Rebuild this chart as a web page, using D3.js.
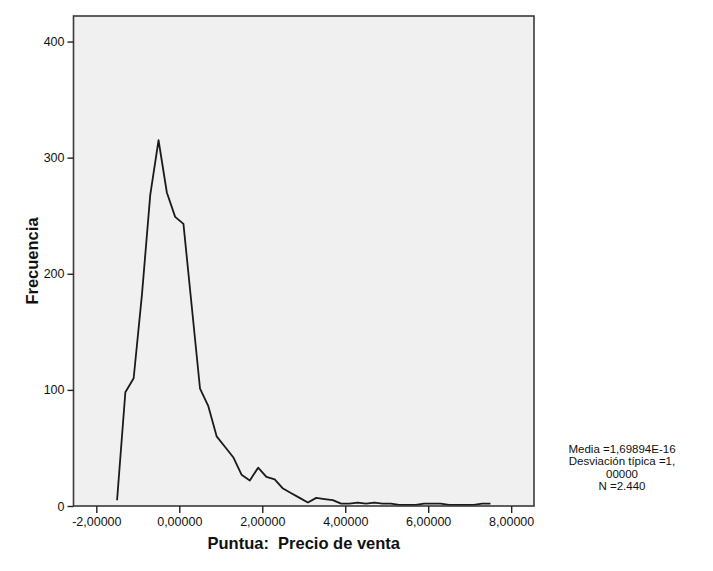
<!DOCTYPE html>
<html><head><meta charset="utf-8">
<script src="https://cdn.jsdelivr.net/npm/d3@7"></script>
<style>
html,body{margin:0;padding:0;background:#fff;}
svg text{font-family:"Liberation Sans",Arial,sans-serif;}
</style></head>
<body><div id="chart"></div>
<script>
// Frequency polygon of standardized sale price (midpoints and counts)
const midpoints = [-1.5,-1.3,-1.1,-0.9,-0.7,-0.5,-0.3,-0.1,0.1,0.3,0.5,0.7,0.9,1.1,1.3,1.5,1.7,1.9,2.1,2.3,2.5,2.7,2.9,3.1,3.3,3.5,3.7,3.9,4.1,4.3,4.5,4.7,4.9,5.1,5.3,5.5,5.7,5.9,6.1,6.3,6.5,6.7,6.9,7.1,7.3,7.5];
const counts    = [5,98,110,182,268,315,270,249,243,172,101,86,60,51,42,27,22,33,25,23,15,11,7,3,7,6,5,2,2,3,2,3,2,2,1,1,1,2,2,2,1,1,1,1,2,2];
const xTicks = [-2,0,2,4,6,8];
const xTickLabels = ["-2,00000","0,00000","2,00000","4,00000","6,00000","8,00000"];
const yTicks = [0,100,200,300,400];
const xTitle = "Puntua:  Precio de venta";
const yTitle = "Frecuencia";
const statsLines = ["Media =1,69894E-16","Desviación típica =1,","00000","N =2.440"];

const W = 713, H = 571;
const L = 73.5, R = 534, T = 16, B = 506;
const svg = d3.select("#chart").append("svg").attr("width",W).attr("height",H);

const x = d3.scaleLinear().domain([-2.55, 8.55]).range([L, R]);
const y = d3.scaleLinear().domain([0, 422]).range([B, T]);

svg.append("rect").attr("x",L).attr("y",T).attr("width",R-L).attr("height",B-T)
  .attr("fill","#f0f0f0");

const line = d3.line().x((d,i)=>x(midpoints[i])).y(d=>y(d));
svg.append("path").datum(counts).attr("d",line)
  .attr("fill","none").attr("stroke","#1a1a1a").attr("stroke-width",1.8)
  .attr("stroke-linejoin","round");

svg.append("rect").attr("x",L).attr("y",T).attr("width",R-L).attr("height",B-T)
  .attr("fill","none").attr("stroke","#3a3a3a").attr("stroke-width",1.6);

const xAxis = svg.append("g").attr("transform",`translate(0,${B})`)
  .call(d3.axisBottom(x).tickValues(xTicks).tickSizeOuter(0).tickSize(7).tickPadding(4)
        .tickFormat((d,i)=>xTickLabels[i]));
xAxis.select(".domain").remove();
xAxis.selectAll("line").attr("stroke","#222").attr("stroke-width",1.4);
xAxis.selectAll("text").attr("font-size","12.5px").attr("fill","#111")
  .attr("font-family","Liberation Sans, Arial, sans-serif");

const yAxis = svg.append("g").attr("transform",`translate(${L},0)`)
  .call(d3.axisLeft(y).tickValues(yTicks).tickSizeOuter(0).tickSize(6).tickPadding(3));
yAxis.select(".domain").remove();
yAxis.selectAll("line").attr("stroke","#222").attr("stroke-width",1.4);
yAxis.selectAll("text").attr("font-size","12.5px").attr("fill","#111")
  .attr("font-family","Liberation Sans, Arial, sans-serif");

svg.append("text").attr("x",(L+R)/2).attr("y",549).attr("text-anchor","middle")
  .attr("font-size","16.5px").attr("font-weight","bold").attr("fill","#111")
  .style("white-space","pre").text(xTitle);

svg.append("text").attr("transform","translate(38,261) rotate(-90)")
  .attr("text-anchor","middle").attr("font-size","16.5px").attr("font-weight","bold")
  .attr("fill","#111").text(yTitle);

const st = svg.append("text").attr("text-anchor","middle").attr("font-size","11.5px").attr("fill","#111");
statsLines.forEach((s,i)=>{
  st.append("tspan").attr("x",622).attr("y",453+i*12.3).text(s);
});
</script></body></html>
